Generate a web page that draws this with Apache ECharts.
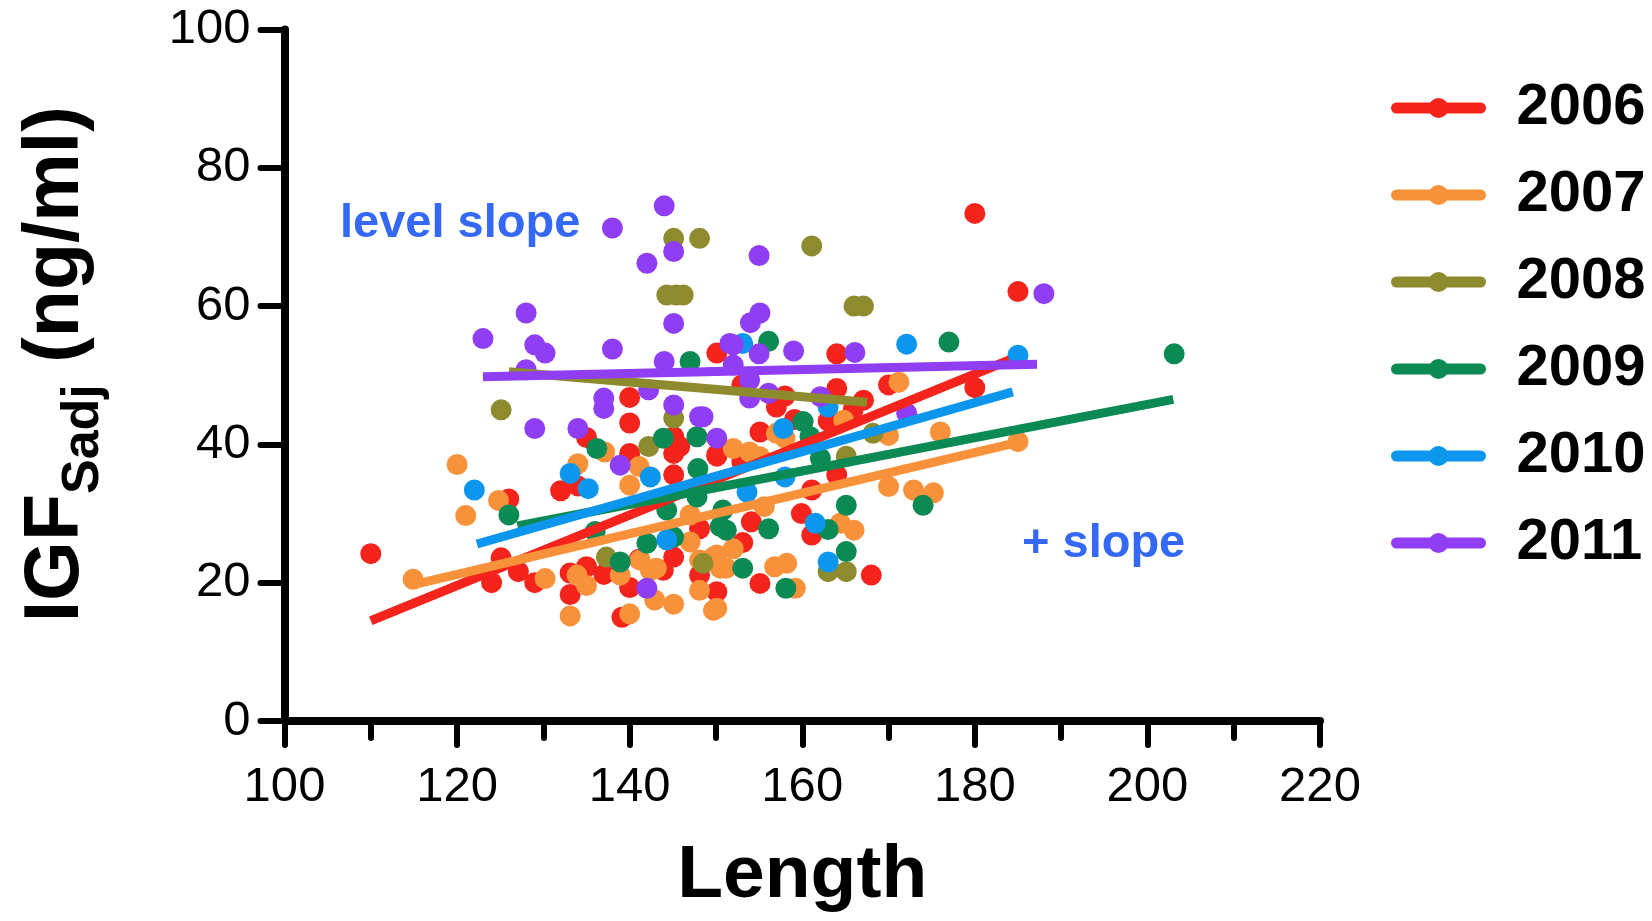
<!DOCTYPE html>
<html>
<head>
<meta charset="utf-8">
<script src="https://cdn.jsdelivr.net/npm/echarts@6/dist/echarts.min.js"></script>
<style>
html,body{margin:0;padding:0;background:#fff;}
#chart{width:1652px;height:921px;}
</style>
</head>
<body>
<div id="chart"></div>
<script>
// ---- data ----
const years = ['2006', '2007', '2008', '2009', '2010', '2011'];
const colors = ['#F4231C', '#F8923A', '#8E8B2F', '#0C8A53', '#0C96EE', '#8F3EF3'];
const xTicks = [100, 120, 140, 160, 180, 200, 220];
const yTicks = [0, 20, 40, 60, 80, 100];

const x2006 = [110.0,126.0,125.1,124.0,127.1,129.0,132.0,134.0,135.0,140.0,140.0,140.0,133.1,135.0,133.1,137.0,140.0,139.1,141.1,145.1,145.1,145.8,145.1,145.1,143.9,148.1,150.1,150.1,148.1,150.1,180.0,185.0,164.0,170.0,164.0,167.1,153.0,158.0,157.0,180.0,155.1,159.1,163.0,150.1,153.0,164.0,165.9,161.1,154.1,159.9,161.1,153.1,155.1,168.0];
const y2006 = [24.2,32.1,23.6,20.0,21.6,20.0,33.3,34.0,41.0,43.1,46.8,38.7,21.4,22.3,18.3,21.2,19.3,15.0,23.4,35.6,41.1,39.7,38.7,23.7,21.8,21.1,18.7,38.5,27.8,53.2,73.4,62.1,53.1,48.6,48.1,46.4,48.6,47.0,45.4,48.2,41.8,43.6,43.4,38.3,37.5,35.6,45.0,33.4,28.8,30.0,26.9,25.8,19.9,21.1];

const x2007 = [120.0,121.0,114.9,124.8,130.2,134.0,137.1,133.1,140.0,135.0,141.1,140.0,142.9,145.1,147.0,147.0,148.1,150.1,150.1,151.2,143.1,171.2,176.0,185.0,170.0,158.0,152.0,153.9,155.1,157.0,170.0,172.9,175.2,164.4,166.0,156.8,158.2,159.2,150.5,155.6,148.1,149.7,149.7,141.2,138.9,133.9,142.4,152.0,164.8];
const y2007 = [37.1,29.7,20.5,31.9,20.6,37.2,38.9,15.2,15.5,19.6,36.8,34.1,17.5,16.9,25.9,29.8,18.9,16.3,24.0,22.1,22.1,49.0,41.8,40.4,41.3,40.9,39.4,38.9,38.2,41.6,33.9,33.4,33.0,28.6,27.6,22.3,22.8,19.2,22.1,31.0,23.3,16.0,23.7,23.3,21.1,21.1,21.8,24.9,43.5];

const x2008 = [145.1,148.1,144.3,145.4,146.2,125.1,145.1,142.2,161.1,166.0,167.1,165.1,168.2,163.0,165.1,148.5,137.3];
const y2008 = [69.8,69.8,61.6,61.6,61.6,45.0,43.8,39.7,68.7,60.0,60.0,38.3,41.6,21.6,21.6,22.8,23.7];

const x2009 = [126.0,136.2,143.9,147.8,147.9,138.9,142.0,145.1,136.0,150.5,147.0,156.1,177.0,160.1,203.1,165.1,174.0,156.1,163.0,165.1,153.1,158.1,151.2,150.8,162.1,160.9,144.3,147.8];
const y2009 = [29.8,39.4,40.9,41.1,36.5,23.0,25.7,26.6,27.4,28.1,52.0,54.9,54.8,43.3,53.1,31.2,31.2,27.8,27.7,24.5,22.1,19.2,27.6,30.5,38.0,41.1,30.5,32.4];

const x2010 = [122.0,133.1,135.2,142.4,144.3,153.1,172.1,185.0,157.8,163.0,158.0,153.6,161.5,163.0];
const y2010 = [33.4,35.8,33.6,35.3,26.2,54.6,54.5,52.9,42.3,23.0,35.3,33.1,28.6,45.4];

const x2011 = [144.0,138.0,145.1,142.0,145.1,128.0,123.0,129.0,130.2,138.0,144.0,128.0,137.0,137.0,129.0,134.0,142.2,145.1,148.1,150.1,138.9,151.6,155.0,188.0,155.1,154.0,159.0,166.1,155.0,152.0,152.0,153.9,156.1,153.9,162.1,172.1,148.5,142.0];
const y2011 = [74.5,71.3,67.9,66.2,57.5,59.0,55.3,54.4,53.2,53.8,52.0,50.8,46.7,45.2,42.3,42.3,47.9,45.7,44.0,40.9,37.0,54.6,67.3,61.8,59.0,57.6,53.5,53.3,53.1,54.4,51.5,49.3,47.4,46.7,46.9,44.5,44.0,19.2];

// regression line end points [x, y]
const fit2006 = [[110.0, 14.5], [184.0, 52.2]];
const fit2007 = [[115.2, 19.8], [185.0, 40.3]];
const fit2008 = [[126.0, 50.5], [167.5, 46.1]];
const fit2009 = [[127.0, 28.2], [203.0, 46.5]];
const fit2010 = [[122.3, 25.6], [184.4, 47.6]];
const fit2011 = [[123.0, 49.8], [187.2, 51.6]];

const annotations = ['level slope', '+ slope'];

// ---- build ----
const xs = [x2006, x2007, x2008, x2009, x2010, x2011];
const ys = [y2006, y2007, y2008, y2009, y2010, y2011];
const fits = [fit2006, fit2007, fit2008, fit2009, fit2010, fit2011];
const FONT = "'Liberation Sans', Arial, sans-serif";

const series = [];
years.forEach((yr, i) => {
  series.push({
    name: yr, type: 'line', data: fits[i], symbol: 'circle', showSymbol: false,
    lineStyle: { color: colors[i], width: 9 }, itemStyle: { color: colors[i] },
    z: 5, silent: true, animation: false
  });
});
years.forEach((yr, i) => {
  series.push({
    name: yr, type: 'scatter', symbol: 'circle', symbolSize: 21,
    data: xs[i].map((x, k) => [x, ys[i][k]]),
    itemStyle: { color: colors[i], opacity: 1 }, z: 3, animation: false
  });
});

const chart = echarts.init(document.getElementById('chart'), null, { renderer: 'canvas' });
chart.setOption({
  animation: false,
  backgroundColor: '#fff',
  grid: { left: 284.5, right: 332, top: 29.5, bottom: 200, containLabel: false },
  xAxis: {
    type: 'value', min: xTicks[0], max: xTicks[xTicks.length - 1], interval: 20,
    name: 'Length', nameLocation: 'middle', nameGap: 118,
    nameTextStyle: { fontFamily: FONT, fontWeight: 'bold', fontSize: 75, color: '#000', lineHeight: 75 },
    axisLine: { show: true, onZero: false, lineStyle: { color: '#000', width: 8, cap: 'round' } },
    axisTick: { show: true, length: 24, lineStyle: { color: '#000', width: 6, cap: 'round' } },
    minorTick: { show: true, splitNumber: 2, length: 17, lineStyle: { color: '#000', width: 6, cap: 'round' } },
    axisLabel: { fontFamily: FONT, fontSize: 49, color: '#000', margin: 42, lineHeight: 49,
      formatter: v => xTicks.includes(v) ? String(v) : '' },
    splitLine: { show: false }, minorSplitLine: { show: false }
  },
  yAxis: {
    type: 'value', min: yTicks[0], max: yTicks[yTicks.length - 1], interval: 20,
    name: '{c|IGF}{b|Sadj}{a| (ng/ml)}', nameLocation: 'middle', nameGap: 175,
    nameTextStyle: {
      color: '#000',
      rich: {
        c: { fontFamily: FONT, fontWeight: 'bold', fontSize: 77, color: '#000', padding: [0, 0, 0, 22] },
        a: { fontFamily: FONT, fontWeight: 'bold', fontSize: 77, color: '#000' },
        b: { fontFamily: FONT, fontWeight: 'bold', fontSize: 52, color: '#000', padding: [54, 0, 0, 0] }
      }
    },
    axisLine: { show: true, onZero: false, lineStyle: { color: '#000', width: 8, cap: 'round' } },
    axisTick: { show: true, length: 24, lineStyle: { color: '#000', width: 6, cap: 'round' } },
    axisLabel: { fontFamily: FONT, fontSize: 49, color: '#000', margin: 34,
      formatter: v => yTicks.includes(v) ? String(v) : '' },
    splitLine: { show: false }
  },
  legend: {
    orient: 'vertical', left: 1386, top: 73, itemWidth: 84, itemHeight: 25, itemGap: 27,
    data: years, selectedMode: false,
    lineStyle: { width: 11, cap: 'round' },
    textStyle: { fontFamily: FONT, fontWeight: 'bold', fontSize: 58, color: '#000', padding: [0, 0, 0, 31], lineHeight: 60 }
  },
  graphic: [
    { type: 'text', left: 340, top: 201, style: { text: annotations[0], fill: '#3468F6', font: "bold 47px 'Liberation Sans', Arial, sans-serif" } },
    { type: 'text', left: 1022, top: 521, style: { text: annotations[1], fill: '#3468F6', font: "bold 47px 'Liberation Sans', Arial, sans-serif" } }
  ],
  series: series
});
</script>
</body>
</html>
